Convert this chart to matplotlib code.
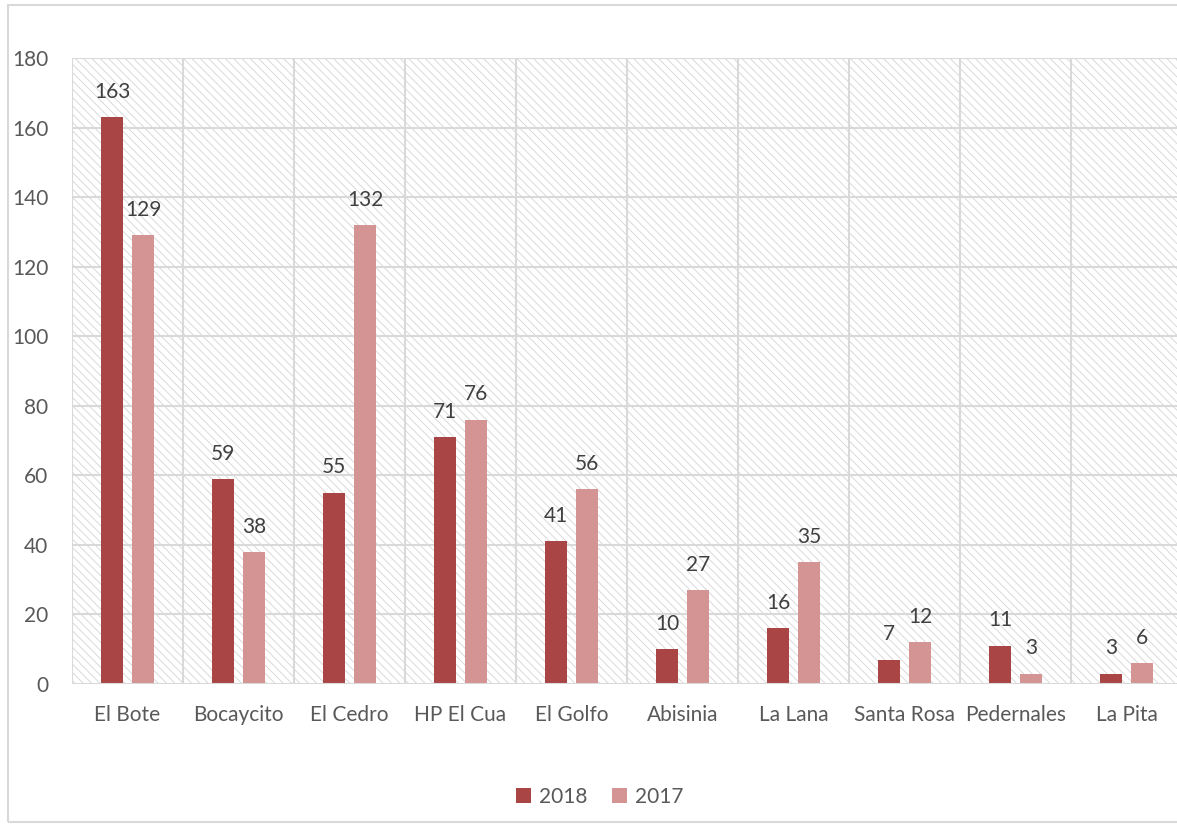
import matplotlib
matplotlib.use("Agg")
import matplotlib.pyplot as plt
from matplotlib.patches import Rectangle
import numpy as np

# --- data ---
categories = ["El Bote", "Bocaycito", "El Cedro", "HP El Cua", "El Golfo",
              "Abisinia", "La Lana", "Santa Rosa", "Pedernales", "La Pita"]
values_2018 = [163, 59, 55, 71, 41, 10, 16, 7, 11, 3]
values_2017 = [129, 38, 132, 76, 56, 27, 35, 12, 3, 6]

C2018 = "#A94645"
C2017 = "#D49493"
GRID = "#D9D9D9"
TXT = "#595959"
FS = 15

plt.rcParams["font.family"] = ["Lato", "DejaVu Sans"]
plt.rcParams["hatch.linewidth"] = 0.6

fig = plt.figure(figsize=(11.77, 8.27), dpi=100)

# outer chart border
fig.patches.append(Rectangle((8 / 1177, 5 / 827), 1.2, 817 / 827, transform=fig.transFigure,
                             fill=False, edgecolor=GRID, linewidth=1.5, zorder=0))

ax = fig.add_axes([72 / 1177, 1 - 684 / 827, 1110 / 1177, (684 - 58) / 827])
ax.set_facecolor("white")
# hatched plot area background
ax.add_patch(Rectangle((0, 0), 1, 1, transform=ax.transAxes, facecolor="white",
                       edgecolor="#D4D4D4", linewidth=0, hatch="\\\\\\\\", zorder=0))

x = np.arange(len(categories))
w = 0.2
off = 0.14
b1 = ax.bar(x - off, values_2018, w, color=C2018, label="2018", zorder=3)
b2 = ax.bar(x + off, values_2017, w, color=C2017, label="2017", zorder=3)

for bars, vals in ((b1, values_2018), (b2, values_2017)):
    for r, v in zip(bars, vals):
        ax.annotate(str(v), (r.get_x() + r.get_width() / 2, v), xytext=(0, 11),
                    textcoords="offset points", ha="center", va="bottom",
                    fontsize=FS, color="#404040", zorder=4)

ax.set_xlim(-0.5, len(categories) - 0.5)
ax.set_ylim(0, 180)
ax.set_yticks(range(0, 181, 20))

# gridlines
for yv in range(20, 181, 20):
    ax.axhline(yv, color=GRID, lw=1.5, zorder=1)
for xv in np.arange(-0.5, len(categories), 1.0):
    ax.axvline(xv, color=GRID, lw=1.5, zorder=1)
ax.axhline(0, color=GRID, lw=1.5, zorder=5)

for s in ax.spines.values():
    s.set_visible(False)

ax.set_xticks(x)
ax.set_xticklabels(categories)
ax.tick_params(axis="both", length=0, labelsize=FS, labelcolor=TXT)
ax.tick_params(axis="x", pad=15)
ax.tick_params(axis="y", pad=17)

fig.legend(handles=[b1, b2], labels=["2018", "2017"], loc="center",
           bbox_to_anchor=(600 / 1177, 1 - 797 / 827), ncol=2, frameon=False,
           fontsize=FS, labelcolor=TXT, handlelength=0.7, handleheight=0.7,
           handletextpad=0.4, columnspacing=1.2)

fig.savefig("out.png", dpi=100)
